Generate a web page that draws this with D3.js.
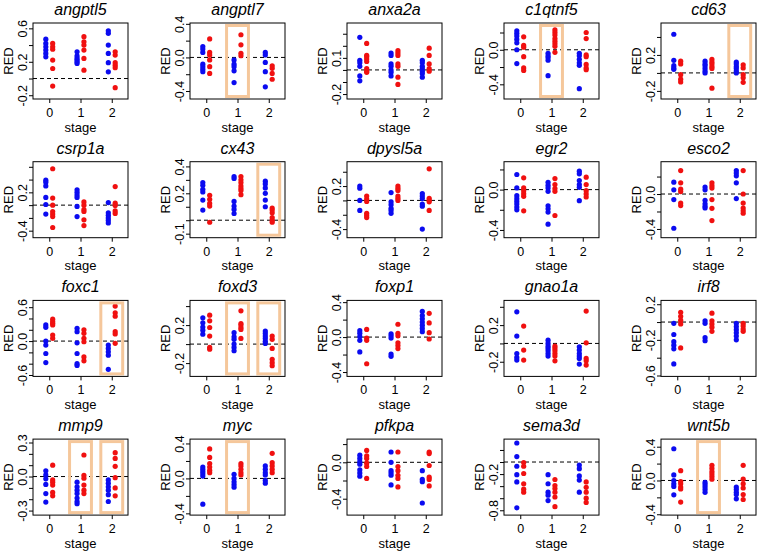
<!DOCTYPE html>
<html>
<head>
<meta charset="utf-8">
<script src="https://cdn.jsdelivr.net/npm/d3@7"></script>
<style>
  html, body { margin: 0; padding: 0; background: #fff; }
  svg { display: block; }
  text { font-family: "Liberation Sans", Arial, sans-serif; fill: #000; }
</style>
</head>
<body>
<div id="chart"></div>
<script>
// ---------------- DATA ----------------
const genes = ["angptl5","angptl7","anxa2a","c1qtnf5","cd63",
               "csrp1a","cx43","dpysl5a","egr2","esco2",
               "foxc1","foxd3","foxp1","gnao1a","irf8",
               "mmp9","myc","pfkpa","sema3d","wnt5b"];
const stages = [0, 1, 2];
const stageLabels = ["0", "1", "2"];

// values per stage [stage0, stage1, stage2]
const angptl5_blue = [[0.47,0.42,0.38,0.34,0.30,0.26],[0.32,0.27,0.24,0.22,0.20,0.18],[0.57,0.54,0.40,0.30,0.19,0.08]];
const angptl5_red  = [[0.42,0.38,0.35,0.22,0.12,-0.09],[0.50,0.44,0.40,0.34,0.24,0.10],[0.32,0.28,0.19,0.16,0.13,-0.11]];
const angptl7_blue = [[0.13,0.10,0.06,-0.08,-0.11,-0.14,-0.17],[-0.03,-0.08,-0.11,-0.16,-0.30],[0.06,0.03,-0.06,-0.17,-0.35]];
const angptl7_red  = [[0.22,0.06,0.03,-0.03,-0.11,-0.19],[0.27,0.15,0.05,0.02],[-0.10,-0.13,-0.19,-0.26]];
const anxa2a_blue  = [[0.27,0.08,0.06,0.03,-0.05,-0.09],[0.14,0.12,0.05,0.03,0.0,-0.02,-0.05],[0.08,0.06,0.03,0.01,-0.01,-0.03,-0.06]];
const anxa2a_red   = [[0.22,0.12,0.11,0.09,0.07,0.01,-0.01,-0.02],[0.16,0.14,0.12,0.05,0.03,-0.06,-0.12],[0.18,0.12,0.05,0.01,-0.01]];
const c1qtnf5_blue = [[0.22,0.19,0.16,0.12,0.08,0.0,-0.16],[-0.04,-0.07,-0.09,-0.12,-0.30],[-0.04,-0.07,-0.11,-0.15,-0.18,-0.45]];
const c1qtnf5_red  = [[0.15,0.05,0.03,-0.08,-0.21,-0.24],[0.23,0.20,0.17,0.13,0.10,0.07,0.04,-0.03],[0.20,0.13,-0.06,-0.08,-0.17,-0.21,-0.23]];
const cd63_blue    = [[0.43,0.14,0.08,0.055,0.04],[0.13,0.10,0.08,0.05,0.02,0.0],[0.12,0.10,0.07,0.05,0.02,0.0]];
const cd63_red     = [[0.13,0.10,-0.02,-0.07,-0.10],[0.15,0.12,0.10,0.07,0.05,-0.17],[0.09,0.055,-0.02,-0.055,-0.105]];
const csrp1a_blue  = [[0.39,0.36,0.30,0.12,0.01,-0.14],[0.24,0.20,0.16,0.12,-0.02,-0.18],[0.04,-0.12,-0.16,-0.20,-0.24,-0.28]];
const csrp1a_red   = [[0.57,0.11,0.0,-0.10,-0.14,-0.18,-0.35],[0.05,0.0,-0.07,-0.10,-0.23,-0.32],[0.29,0.03,-0.005,-0.09,-0.13]];
const cx43_blue    = [[0.28,0.26,0.23,0.21,0.15,0.075],[0.325,0.31,0.14,0.105,0.08,0.05],[0.29,0.27,0.24,0.20,0.15,0.10]];
const cx43_red     = [[0.185,0.155,0.125,0.105,-0.015],[0.325,0.30,0.28,0.255,0.235,0.22,0.19],[0.09,0.075,0.055,0.02,0.0,-0.015]];
const dpysl5a_blue = [[0.20,0.17,0.0,-0.14],[0.11,-0.02,-0.06,-0.11,-0.14,-0.18],[0.095,0.06,0.025,-0.05,-0.08,-0.40]];
const dpysl5a_red  = [[0.06,0.02,-0.015,-0.18,-0.21,-0.24],[0.20,0.17,0.14,0.06,0.03,0.0],[0.44,0.03,0.0,-0.02,-0.14]];
const egr2_blue    = [[0.15,0.017,-0.06,-0.09,-0.117,-0.143,-0.173,-0.20],[0.073,0.043,0.017,-0.017,-0.16,-0.19,-0.223,-0.343],[0.183,0.157,0.09,0.05,0.023,-0.11]];
const egr2_red     = [[0.117,0.017,-0.01,-0.04,-0.067,-0.21],[0.11,0.05,0.01,-0.017,-0.257],[0.123,0.05,-0.01,-0.043,-0.073]];
const esco2_blue   = [[0.136,0.048,-0.064,-0.392],[0.08,0.048,-0.072,-0.112,-0.14,-0.16],[0.268,0.24,0.208,0.128,-0.052]];
const esco2_red    = [[0.268,0.128,0.056,0.028,-0.104,-0.132],[0.128,0.096,0.068,-0.064,-0.164,-0.304],[0.268,0.0,-0.104,-0.16,-0.192,-0.22]];
const foxc1_blue   = [[0.286,0.244,0.0,-0.07,-0.22,-0.38],[0.226,0.167,-0.03,-0.22,-0.40,-0.43],[-0.07,-0.13,-0.19,-0.25,-0.5]];
const foxc1_red    = [[0.387,0.345,0.315,0.286,0.107,0.048],[0.2,0.137,0.048,-0.012,-0.28,-0.35],[0.62,0.5,0.44,0.167,0.125,-0.04]];
const foxd3_blue   = [[0.277,0.225,0.18,0.147,0.105],[0.12,0.077,0.05,0.0,-0.035,-0.07],[0.137,0.112,0.084,0.06,0.03,0.007]];
const foxd3_red    = [[0.305,0.245,0.175,0.084,-0.035,-0.053],[0.35,0.217,0.2,0.175,0.155,0.06],[0.084,0.05,-0.045,-0.16,-0.196,-0.228]];
const foxp1_blue   = [[0.073,0.044,0.007,-0.037,-0.17],[0.037,0.015,-0.011,-0.195,-0.22],[0.294,0.246,0.21,0.173,0.136,0.099,0.062]];
const foxp1_red    = [[0.088,-0.011,-0.037,-0.305],[0.147,0.044,0.015,-0.066,-0.096,-0.132],[0.272,0.162,0.051,-0.022]];
const gnao1a_blue  = [[0.345,0.08,-0.11,-0.153,-0.182],[0.036,0,-0.03,-0.055,-0.08,-0.11,-0.138],[-0.036,-0.073,-0.11,-0.138,-0.164,-0.225]];
const gnao1a_red   = [[0.19,-0.073,-0.182],[-0.03,-0.055,-0.08,-0.11,-0.138,-0.19],[0.353,0.007,-0.164,-0.19,-0.236]];
const irf8_blue    = [[-0.014,-0.14,-0.22,-0.26,-0.30,-0.47],[0.014,-0.014,-0.175,-0.21],[-0.014,-0.05,-0.086,-0.12,-0.157,-0.2]];
const irf8_red     = [[0.11,0.064,0.021,-0.021,-0.29],[0.1,0.014,-0.021,-0.057,-0.104],[-0.014,-0.043,-0.079,-0.104]];
const mmp9_blue    = [[0.05,0.014,-0.02,-0.07,-0.15,-0.225],[-0.05,-0.09,-0.12,-0.15,-0.19,-0.22,-0.24],[-0.03,-0.06,-0.09,-0.12,-0.16,-0.22]];
const mmp9_red     = [[0.1,-0.03,-0.05,-0.075,-0.14,-0.17],[0.19,0.01,-0.015,-0.075,-0.12,-0.15],[0.21,0.16,0.09,-0.01,-0.1,-0.17]];
const myc_blue     = [[0.13,0.105,0.078,0.054,0.027,-0.295],[0.047,0.0,-0.039,-0.07,-0.1],[0.143,0.105,0.066,0.039,-0.023,-0.054]];
const myc_red      = [[0.337,0.24,0.17,0.13,0.093,0.066],[0.17,0.143,0.105,0.066,0.039],[0.287,0.18,0.143,0.105,0.066]];
const pfkpa_blue   = [[0.078,0.043,0.007,-0.021,-0.082,-0.117,-0.152],[0.113,0.0,-0.092,-0.117,-0.142,-0.248],[-0.092,-0.188,-0.213,-0.447]];
const pfkpa_red    = [[0.131,0.071,0.043,-0.01,-0.046,-0.177],[0.113,-0.046,-0.092,-0.142,-0.177,-0.27],[0.113,0.096,-0.035,-0.163,-0.188,-0.259]];
const sema3d_blue  = [[0.315,0.09,-0.07,-0.21,-0.33,-0.76],[-0.21,-0.36,-0.5,-0.55,-0.64],[-0.05,-0.11,-0.23,-0.30,-0.5]];
const sema3d_red   = [[-0.01,-0.07,-0.19,-0.36,-0.45,-0.5],[-0.29,-0.39,-0.44,-0.5,-0.58,-0.74],[-0.33,-0.42,-0.5,-0.6,-0.67]];
const wnt5b_blue   = [[0.376,0.066,0.0,-0.039,-0.07,-0.17],[-0.023,-0.05,-0.078,-0.108,-0.14],[-0.078,-0.108,-0.14,-0.167,-0.217]];
const wnt5b_red    = [[0.116,-0.012,-0.039,-0.078,-0.1,-0.256],[0.18,0.143,0.105,0.078,0.047,0.016],[0.18,0.016,-0.039,-0.089,-0.167,-0.225]];

const blueSeries = [angptl5_blue, angptl7_blue, anxa2a_blue, c1qtnf5_blue, cd63_blue,
                    csrp1a_blue, cx43_blue, dpysl5a_blue, egr2_blue, esco2_blue,
                    foxc1_blue, foxd3_blue, foxp1_blue, gnao1a_blue, irf8_blue,
                    mmp9_blue, myc_blue, pfkpa_blue, sema3d_blue, wnt5b_blue];
const redSeries  = [angptl5_red, angptl7_red, anxa2a_red, c1qtnf5_red, cd63_red,
                    csrp1a_red, cx43_red, dpysl5a_red, egr2_red, esco2_red,
                    foxc1_red, foxd3_red, foxp1_red, gnao1a_red, irf8_red,
                    mmp9_red, myc_red, pfkpa_red, sema3d_red, wnt5b_red];

// y-axis ranges [bottom, top]
const yRanges = [[-0.245,0.664],[-0.495,0.41],[-0.241,0.389],[-0.57,0.31],[-0.29,0.555],
                 [-0.51,0.68],[-0.13,0.435],[-0.52,0.54],[-0.477,0.277],[-0.50,0.37],
                 [-0.625,0.72],[-0.34,0.46],[-0.45,0.42],[-0.36,0.47],[-0.61,0.243],
                 [-0.34,0.33],[-0.42,0.45],[-0.58,0.255],[-0.88,0.38],[-0.41,0.49]];
// tick values, and the subset that carries labels
const yTicks = [[-0.2,0,0.2,0.4,0.6],[-0.4,-0.2,0,0.2,0.4],[-0.2,-0.1,0,0.1,0.2,0.3],[-0.4,-0.2,0,0.2],[-0.2,0,0.2,0.4],
                [-0.4,-0.2,0,0.2,0.4,0.6],[-0.1,0,0.1,0.2,0.3,0.4],[-0.4,-0.2,0,0.2,0.4],[-0.4,-0.2,0,0.2],[-0.4,-0.2,0,0.2],
                [-0.6,-0.4,-0.2,0,0.2,0.4,0.6],[-0.2,0,0.2,0.4],[-0.4,-0.2,0,0.2,0.4],[-0.2,0,0.2,0.4],[-0.6,-0.4,-0.2,0,0.2],
                [-0.3,-0.2,-0.1,0,0.1,0.2,0.3],[-0.4,-0.2,0,0.2,0.4],[-0.4,-0.2,0,0.2],[-0.8,-0.6,-0.4,-0.2,0,0.2],[-0.4,-0.2,0,0.2,0.4]];
const yTickLabels = [[-0.2,0.2,0.6],[-0.4,0,0.4],[-0.2,0.1],[-0.4,0],[-0.2,0.2],
                     [-0.4,0.2],[-0.1,0.2,0.4],[-0.4,0.2],[-0.4,0],[-0.4,0],
                     [-0.6,0,0.6],[-0.2,0.2],[-0.4,0,0.4],[-0.2,0.2],[-0.6,-0.2,0.2],
                     [-0.3,0,0.3],[-0.4,0,0.4],[-0.4,0],[-0.8,-0.2],[-0.4,0,0.4]];
// highlighted stages (orange boxes)
const highlights = [[],[1],[],[1],[2],
                    [],[2],[],[],[],
                    [2],[1,2],[],[],[],
                    [1,2],[1],[],[],[1]];

// ---------------- LAYOUT ----------------
const W = 758, H = 553;
const boxW = 95, boxH = 76;
const colStep = 157, rowStep = 138.7;
const left0 = 33, top0 = 23;
const dodge = 0.11;
const BLUE = "#0b0bf0", RED = "#f01010", HILITE = "#f5c79b";

const svg = d3.select("#chart").append("svg")
  .attr("width", W).attr("height", H)
  .attr("viewBox", `0 0 ${W} ${H}`);
svg.append("rect").attr("width", W).attr("height", H).attr("fill", "#fff");

const fmt = v => v.toFixed(1);

genes.forEach((gene, i) => {
  const c = i % 5, r = Math.floor(i / 5);
  const L = left0 + c * colStep, T = top0 + r * rowStep;
  const x = d3.scaleLinear().domain([-0.52, 2.52]).range([L, L + boxW]);
  const y = d3.scaleLinear().domain(yRanges[i]).range([T + boxH, T]);
  const g = svg.append("g").attr("class", "panel");

  // title
  g.append("text")
    .attr("x", L + boxW / 2).attr("y", T - 8)
    .attr("text-anchor", "middle")
    .style("font-size", "16px").style("font-style", "italic")
    .text(gene);

  // y axis
  const labels = yTickLabels[i];
  const yAx = g.append("g").attr("transform", `translate(${L},0)`)
    .call(d3.axisLeft(y).tickValues(yTicks[i]).tickSize(4).tickSizeOuter(0)
      .tickFormat(d => labels.some(v => Math.abs(v - d) < 1e-9) ? fmt(d) : ""));
  yAx.select(".domain").remove();
  yAx.selectAll(".tick line").attr("stroke", "#000");
  yAx.selectAll(".tick text")
    .attr("transform", "rotate(-90)")
    .attr("x", 0).attr("y", -6).attr("dy", 0)
    .attr("text-anchor", "middle")
    .style("font-size", "12.5px").style("font-family", "Liberation Sans, Arial, sans-serif")
    .attr("fill", "#000");

  // x axis
  const xAx = g.append("g").attr("transform", `translate(0,${T + boxH})`)
    .call(d3.axisBottom(x).tickValues(stages).tickSize(4).tickSizeOuter(0)
      .tickFormat((d, k) => stageLabels[k]));
  xAx.select(".domain").remove();
  xAx.selectAll(".tick line").attr("stroke", "#000");
  xAx.selectAll(".tick text")
    .attr("y", 18).attr("dy", 0)
    .style("font-size", "12.5px").style("font-family", "Liberation Sans, Arial, sans-serif")
    .attr("fill", "#000");

  // axis titles
  g.append("text")
    .attr("x", L + boxW / 2).attr("y", T + boxH + 32.5)
    .attr("text-anchor", "middle").style("font-size", "13px")
    .text("stage");
  g.append("text")
    .attr("transform", `translate(${L - 20},${T + boxH / 2}) rotate(-90)`)
    .attr("text-anchor", "middle").style("font-size", "13px")
    .text("RED");

  // zero reference line
  g.append("line")
    .attr("x1", L).attr("x2", L + boxW)
    .attr("y1", y(0)).attr("y2", y(0))
    .attr("stroke", "#000").attr("stroke-width", 1)
    .attr("stroke-dasharray", "4,3");

  // points
  stages.forEach(s => {
    g.selectAll(null).data(blueSeries[i][s]).enter().append("circle")
      .attr("cx", x(s - dodge)).attr("cy", d => y(d)).attr("r", 2.6)
      .attr("fill", BLUE);
    g.selectAll(null).data(redSeries[i][s]).enter().append("circle")
      .attr("cx", x(s + dodge)).attr("cy", d => y(d)).attr("r", 2.6)
      .attr("fill", RED);
  });

  // highlight boxes
  g.selectAll(null).data(highlights[i]).enter().append("rect")
    .attr("x", s => x(s - 0.35)).attr("width", s => x(s + 0.35) - x(s - 0.35))
    .attr("y", T + 2.5).attr("height", boxH - 5)
    .attr("fill", "none").attr("stroke", HILITE).attr("stroke-width", 3);

  // plot frame
  g.append("rect")
    .attr("x", L).attr("y", T).attr("width", boxW).attr("height", boxH)
    .attr("fill", "none").attr("stroke", "#000").attr("stroke-width", 1);
});
</script>
</body>
</html>
